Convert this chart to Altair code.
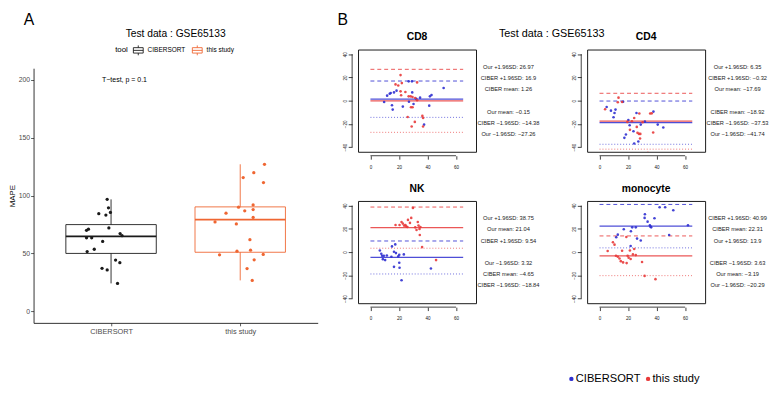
import altair as alt
import pandas as pd

FONT = "Liberation Sans"

# ------------------------------------------------------------------ Panel A data
TOOLS = ["CIBERSORT", "this study"]
TOOL_COLORS = ["#1a1a1a", "#EF6632"]
ciber_mape = [96.7, 89.4, 85.4, 84.3, 83.1, 72.0, 70.9, 70.0, 67.2, 65.3,
              63.5, 63.5, 60.4, 53.6, 51.6, 44.3, 42.0, 37.1, 35.7, 24.1]
ciber_jit = [-0.03, -0.02, -0.005, -0.095, -0.04, -0.017, -0.175, -0.19, 0.07, 0.085,
             -0.19, -0.15, -0.065, -0.13, -0.185, 0.035, 0.068, -0.07, -0.03, 0.05]
study_mape = [127.0, 119.7, 115.5, 111.2, 91.9, 89.9, 87.9, 86.8, 84.8, 81.1,
              77.2, 75.5, 61.9, 51.9, 52.8, 48.8, 49.1, 44.5, 36.9, 26.7]
study_jit = [0.188, 0.105, 0.023, 0.18, 0.1, -0.013, 0.1, 0.035, -0.11, 0.1,
             -0.195, -0.03, 0.075, -0.025, 0.08, -0.16, 0.178, 0.108, 0.053, 0.093]
box_q1 = [50.0, 51.0]
box_med = [64.7, 79.2]
box_q3 = [74.9, 90.2]
box_lo = [24.1, 26.7]
box_hi = [96.7, 127.0]
A_YTICKS = [0, 50, 100, 150, 200]
A_YDOM = [-10, 210]
A_XDOM = [0.4, 2.6]
TTEST = "T−test, p = 0.1"
TTEST_POS = [0.93, 200]
MAIN_TITLE = "Test data : GSE65133"

# ------------------------------------------------------------------ Panel B data
SERIES = ["CIBERSORT", "this study"]
BLUE, RED = "#2F2FD0", "#E83A3A"
STAT_NAMES = ["CIBER mean", "CIBER +1.96SD", "CIBER −1.96SD",
              "Our mean", "Our +1.96SD", "Our −1.96SD"]
STAT_STYLE = ["mean", "upper", "lower", "mean", "upper", "lower"]

cd8_ciber_x = [9.6, 11.7, 13.5, 14.2, 16.5, 18.3, 15.1, 15.6, 22.7, 26.8, 29.1,
               27.0, 29.3, 30.2, 32.1, 34.8, 41.7, 42.8, 41.2, 37.6, 51.3]
cd8_ciber_y = [-1.1, 4.3, 6.0, 6.6, 7.1, 8.6, -4.0, -7.7, -5.1, 16.6, 16.6,
               -0.9, 7.1, -2.9, 1.7, 2.6, 3.7, 4.9, -4.3, -20.6, 10.9]
cd8_our_x = [21.1, 22.0, 17.6, 19.5, 21.1, 21.5, 24.5, 26.8, 28.2, 29.5, 31.4,
             32.7, 26.1, 28.4, 29.5, 31.1, 28.9, 36.4, 36.9, 36.9, 32.7]
cd8_our_y = [22.0, 15.1, 14.0, 13.1, 8.0, 4.6, 7.4, 3.7, 3.7, 3.1, 2.3,
             15.7, -14.0, -5.7, -5.7, -18.3, -22.3, -13.1, -14.9, -22.3, 0.3]
cd8_stats = [1.26, 16.9, -14.38, -0.15, 26.97, -27.26]

cd4_ciber_x = [5.0, 8.0, 9.8, 10.5, 11.2, 16.5, 20.2, 21.1, 23.8, 18.5,
               17.4, 24.3, 27.2, 25.9, 28.9, 31.8, 37.8, 40.8, 44.7]
cd4_ciber_y = [-5.4, -8.6, -14.3, -10.6, -7.7, -0.9, -16.6, -21.1, -26.3, -29.1,
               -32.0, -36.9, -35.1, -10.6, -20.6, -18.0, -9.4, -20.6, -23.1]
cd4_our_x = [3.9, 13.3, 12.8, 15.8, 19.5, 22.7, 21.3, 24.3, 26.1, 26.6,
             27.9, 27.7, 28.6, 28.4, 30.2, 35.5, 36.6, 37.6, 33.9]
cd4_our_y = [-7.4, 2.6, -1.4, -1.1, -18.3, -17.7, -25.1, -14.9, -22.6, -27.7,
             -11.1, -28.6, -28.6, -32.6, -18.6, -11.1, -10.9, -27.4, -44.9]
cd4_stats = [-18.92, -0.32, -37.53, -17.69, 6.35, -41.74]

nk_ciber_x = [6.6, 7.6, 8.2, 8.7, 9.4, 10.3, 11.5, 14.7, 15.1, 17.4,
              16.5, 17.9, 19.5, 20.2, 20.2, 20.4, 23.4, 16.5, 21.8, 42.4]
nk_ciber_y = [1.4, -1.4, -3.2, -6.1, -3.2, -6.9, -2.9, -4.0, 4.9, 6.6,
              0.3, -0.9, -3.7, -2.3, -9.2, -13.5, -2.0, -12.7, -24.2, -14.1]
nk_our_x = [17.6, 20.4, 21.8, 22.7, 23.6, 24.5, 25.0, 25.9, 26.3, 27.7, 28.6,
            29.8, 31.4, 32.3, 33.2, 33.7, 34.4, 35.0, 34.6, 36.2, 46.0]
nk_our_y = [23.3, 23.3, 25.9, 24.5, 22.8, 23.3, 22.2, 21.6, 27.7, 25.1, 29.4,
            38.0, 21.3, 19.0, 25.9, 22.8, 19.9, 21.6, 14.7, 4.3, -6.9]
nk_stats = [-4.65, 9.54, -18.84, 21.04, 38.75, 3.32]

mono_ciber_x = [11.7, 12.8, 17.0, 22.0, 22.9, 25.4, 21.8, 26.3, 28.9, 31.6, 31.8,
                33.7, 35.3, 35.7, 36.2, 38.5, 42.1, 46.0, 51.7, 48.8, 62.0]
mono_ciber_y = [12.7, 15.0, 19.6, 17.9, 21.3, 21.3, 5.2, 11.6, 9.9, 29.4, 32.6,
                26.2, 23.1, 21.9, 21.3, 29.1, 38.6, 38.6, 36.0, 14.7, 23.1]
mono_our_x = [5.7, 9.4, 10.5, 11.5, 12.8, 14.0, 14.9, 15.8, 16.5, 18.8, 19.0,
              19.7, 20.4, 21.3, 21.8, 23.4, 24.3, 25.4, 29.8, 31.6, 39.2]
mono_our_y = [0.9, 8.4, 6.4, -3.2, -4.0, -5.5, -7.8, 1.2, -8.9, 13.0, -9.5,
              -3.2, -4.9, 1.4, -6.0, -2.0, 2.6, -2.6, -8.6, -20.5, -23.3]
mono_stats = [22.31, 40.99, 3.63, -3.19, 13.9, -20.29]

B_XTICKS = [0, 20, 40, 60]
B_YTICKS = [-40, -20, 0, 20, 40]
B_XDOM = [-8.7, 74]
B_YDOM = [-44, 44]
LINE_X = [0, 65]

# ------------------------------------------------------------------ layout (pixels)
W_A, H_A = 289, 259
A_DROP = 19                 # panel A starts this far below the B panels' top
W_B, H_B = 120, 104
LETTER_Y = -25.2            # baseline of the "A"/"B" letters above the B panels' top
LETTER_X_B = -21
LEG_B_X = [-16, 62]         # bottom legend symbols, relative to the monocyte panel
LEG_B_Y = 181

# ------------------------------------------------------------------ Panel A
box_df = pd.DataFrame({"tool": TOOLS, "pos": [1, 2], "q1": box_q1, "med": box_med,
                       "q3": box_q3, "lo": box_lo, "hi": box_hi})
pts_df = pd.DataFrame({
    "tool": ["CIBERSORT"] * len(ciber_mape) + ["this study"] * len(study_mape),
    "pos": [1] * len(ciber_mape) + [2] * len(study_mape),
    "jit": ciber_jit + study_jit,
    "mape": ciber_mape + study_mape,
})

xA = alt.Scale(domain=A_XDOM, nice=False, zero=False)
yA = alt.Scale(domain=A_YDOM, nice=False, zero=False)
label_expr = " : ".join(f"datum.value == {i + 1} ? '{t}'" for i, t in enumerate(TOOLS)) + " : ''"
axA_x = alt.Axis(values=[1, 2], labelExpr=label_expr, grid=False, domainColor="#1a1a1a",
                 domainWidth=0.9, tickColor="#333333", tickSize=3, tickWidth=0.8,
                 labelFontSize=7.5, labelColor="#4D4D4D", labelPadding=1.5, labelFont=FONT)
axA_y = alt.Axis(values=A_YTICKS, grid=False, domainColor="#1a1a1a", domainWidth=0.9,
                 tickColor="#333333", tickSize=3, tickWidth=0.8, labelFontSize=7,
                 labelColor="#4D4D4D", labelPadding=1, labelFont=FONT,
                 titleFontSize=8, titleFontWeight="normal", titleColor="black",
                 titlePadding=2, titleFont=FONT)
colA = alt.Color("tool:N", scale=alt.Scale(domain=TOOLS, range=TOOL_COLORS), legend=None)
# boxplot key drawn as separate open strokes (no enclosed area to fill)
BOX_PATH = ("M-1,-0.55H1M1,-0.55V0.55M1,0.55H-1M-1,0.55V-0.55"
            "M-1,0H1M0,-0.55V-1M0,0.55V1")
# this legend is placed by the column group that starts A_DROP above panel A
legA = alt.Legend(orient="none", legendX=83, legendY=-5, direction="horizontal",
                  title="tool", titleOrient="left", titleFontSize=8, titleFontWeight="normal",
                  titleColor="black", titleFont=FONT, titlePadding=5, titleBaseline="middle",
                  labelFontSize=6.6, labelColor="black", labelFont=FONT,
                  symbolType=BOX_PATH, symbolSize=100, symbolFillColor="white",
                  symbolStrokeWidth=0.9, labelOffset=4, columnPadding=4, padding=0)

baseA = alt.Chart(box_df).transform_calculate(xl="datum.pos - 0.35", xr="datum.pos + 0.35")
boxes = baseA.mark_rect(fill="white", strokeWidth=0.9).encode(
    x=alt.X("xl:Q", scale=xA, axis=axA_x, title=None), x2="xr:Q",
    y=alt.Y("q1:Q", scale=yA, axis=axA_y, title="MAPE"), y2="q3:Q",
    stroke=alt.Stroke("tool:N", scale=alt.Scale(domain=TOOLS, range=TOOL_COLORS), legend=legA))
wh_hi = baseA.mark_rule(strokeWidth=0.9).encode(
    x=alt.X("pos:Q", scale=xA, axis=axA_x, title=None),
    y=alt.Y("q3:Q", scale=yA, axis=axA_y, title="MAPE"), y2="hi:Q", color=colA)
wh_lo = baseA.mark_rule(strokeWidth=0.9).encode(
    x=alt.X("pos:Q", scale=xA, axis=axA_x, title=None),
    y=alt.Y("lo:Q", scale=yA, axis=axA_y, title="MAPE"), y2="q1:Q", color=colA)
med = baseA.mark_rule(strokeWidth=1.8).encode(
    x=alt.X("xl:Q", scale=xA, axis=axA_x, title=None), x2="xr:Q",
    y=alt.Y("med:Q", scale=yA, axis=axA_y, title="MAPE"), color=colA)
ptsA = alt.Chart(pts_df).transform_calculate(xj="datum.pos + datum.jit").mark_circle(
    size=11, opacity=1).encode(
    x=alt.X("xj:Q", scale=xA, axis=axA_x, title=None),
    y=alt.Y("mape:Q", scale=yA, axis=axA_y, title="MAPE"), color=colA)
ttest = alt.Chart(pd.DataFrame({"x": [TTEST_POS[0]], "y": [TTEST_POS[1]], "t": [TTEST]})).mark_text(
    align="left", baseline="middle", fontSize=7.1, font=FONT, color="black").encode(
    x=alt.X("x:Q", scale=xA, axis=axA_x, title=None),
    y=alt.Y("y:Q", scale=yA, axis=axA_y, title="MAPE"), text="t:N")
titleA = alt.Chart(pd.DataFrame({"t": [MAIN_TITLE]})).mark_text(
    align="center", baseline="middle", fontSize=10.4, font=FONT, color="black").encode(
    text="t:N", x=alt.value(W_A / 2), y=alt.value(-35))
letterA = alt.Chart(pd.DataFrame({"t": ["A"]})).mark_text(
    align="left", baseline="alphabetic", fontSize=16, font=FONT, color="black").encode(
    text="t:N", x=alt.value(-10), y=alt.value(LETTER_Y - A_DROP))

panelA = alt.layer(boxes, wh_hi, wh_lo, med, ptsA, ttest, titleA, letterA).properties(
    width=W_A, height=H_A)


def spacer(w, h):
    return alt.Chart(pd.DataFrame({"s": [""]})).mark_text().encode(text="s:N").properties(
        width=w, height=h)


colA_chart = alt.vconcat(spacer(W_A, A_DROP), panelA, spacing=0, bounds="flush")


# ------------------------------------------------------------------ Panel B
def fmt(v):
    return str(v).replace("-", "−")


def ba_panel(name, cx, cy, ox, oy, stats, legend=False, extras=()):
    pts = pd.DataFrame({"x": cx + ox, "y": cy + oy,
                        "series": ["CIBERSORT"] * len(cx) + ["this study"] * len(ox)})
    st = pd.DataFrame({"name": STAT_NAMES, "value": stats, "style": STAT_STYLE})
    st["series"] = ["CIBERSORT" if n.startswith("CIBER") else "this study" for n in st["name"]]
    st["label"] = [f"{n}: {fmt(v)}" for n, v in zip(st["name"], st["value"])]
    order = st["value"].rank(ascending=False, method="first").astype(int) - 1
    st["slot"] = [o if o < 3 else o + 1 for o in order]
    st["x0"] = LINE_X[0]
    st["x1"] = LINE_X[1]

    xs = alt.Scale(domain=B_XDOM, nice=False, zero=False)
    ys = alt.Scale(domain=B_YDOM, nice=False, zero=False)
    ax_x = alt.Axis(values=B_XTICKS, domain=False, tickSize=3.5, tickColor="#111",
                    tickWidth=0.8, offset=4, labelFontSize=4.6, labelPadding=5,
                    labelColor="#111", grid=False, labelFlush=False, labelFont=FONT)
    ax_y = alt.Axis(values=B_YTICKS, domain=False, tickSize=4, tickColor="#111",
                    tickWidth=0.8, offset=6, labelAngle=270, labelAlign="center",
                    labelBaseline="bottom", labelFontSize=4.6, labelPadding=1,
                    labelColor="#111", grid=False, labelFlush=False, labelFont=FONT)
    strk = alt.Stroke("series:N", scale=alt.Scale(domain=SERIES, range=[BLUE, RED]), legend=None)
    col = alt.Color("series:N", scale=alt.Scale(domain=SERIES, range=[BLUE, RED]), legend=None)

    def rules(style, **kw):
        return alt.Chart(st[st["style"] == style]).mark_rule(**kw).encode(
            x=alt.X("x0:Q", scale=xs, axis=ax_x, title=None), x2="x1:Q",
            y=alt.Y("value:Q", scale=ys, axis=ax_y, title=None), stroke=strk)

    upper = rules("upper", strokeWidth=1, strokeDash=[4, 3], opacity=0.85)
    lower = rules("lower", strokeWidth=1, strokeDash=[1, 2], opacity=0.7)
    mean = rules("mean", strokeWidth=1.3, opacity=0.85)
    points = alt.Chart(pts).mark_circle(size=7, opacity=0.9, clip=True).encode(
        x=alt.X("x:Q", scale=xs, axis=ax_x, title=None),
        y=alt.Y("y:Q", scale=ys, axis=ax_y, title=None), color=col)
    xline = alt.Chart(pd.DataFrame({"a": [B_XTICKS[0]], "b": [B_XTICKS[-1]]})).mark_rule(
        color="#111", strokeWidth=0.8).encode(
        x=alt.X("a:Q", scale=xs, axis=ax_x, title=None), x2="b:Q", y=alt.value(H_B + 4))
    yline = alt.Chart(pd.DataFrame({"a": [B_YTICKS[0]], "b": [B_YTICKS[-1]]})).mark_rule(
        color="#111", strokeWidth=0.8).encode(
        y=alt.Y("a:Q", scale=ys, axis=ax_y, title=None), y2="b:Q", x=alt.value(-6))
    ttl = alt.Chart(pd.DataFrame({"t": [name]})).mark_text(
        fontSize=10.5, fontWeight="bold", font=FONT, color="black", baseline="middle").encode(
        text="t:N", x=alt.value(W_B / 2), y=alt.value(-12.5))
    inner = alt.layer(upper, lower, mean, points, xline, yline, ttl, *extras)
    texts = alt.Chart(st).mark_text(fontSize=5.8, font=FONT, color="#222", baseline="middle").encode(
        text="label:N", x=alt.value(W_B + 33),
        y=alt.Y("slot:Q", scale=alt.Scale(domain=[0, 6], range=[17.4, 86.0]), axis=None))
    layers = [inner, texts]
    if legend:
        leg_df = pd.DataFrame({"series": SERIES})
        leg_x = alt.X("series:N", scale=alt.Scale(type="point", domain=SERIES, range=LEG_B_X,
                                                  padding=0), axis=None, title=None)
        leg_pts = alt.Chart(leg_df).mark_circle(size=20, opacity=1).encode(
            x=leg_x, y=alt.value(LEG_B_Y), color=col)
        leg_txt = alt.Chart(leg_df).mark_text(
            align="left", baseline="middle", dx=4.5, fontSize=11.3, font=FONT,
            color="black").encode(x=leg_x, y=alt.value(LEG_B_Y), text="series:N")
        layers.append(alt.layer(leg_pts, leg_txt))
    return alt.layer(*layers).resolve_scale(x="independent", y="independent").properties(
        width=W_B, height=H_B, view=alt.ViewBackground(stroke="#1a1a1a", strokeWidth=1))


letterB = alt.Chart(pd.DataFrame({"t": ["B"]})).mark_text(
    align="left", baseline="alphabetic", fontSize=16, font=FONT, color="black").encode(
    text="t:N", x=alt.value(LETTER_X_B), y=alt.value(LETTER_Y))
titleB = alt.Chart(pd.DataFrame({"t": [MAIN_TITLE]})).mark_text(
    align="center", baseline="middle", fontSize=11, font=FONT, color="black").encode(
    text="t:N", x=alt.value(197), y=alt.value(-16))

cd8 = ba_panel("CD8", cd8_ciber_x, cd8_ciber_y, cd8_our_x, cd8_our_y, cd8_stats,
               extras=(letterB, titleB))
cd4 = ba_panel("CD4", cd4_ciber_x, cd4_ciber_y, cd4_our_x, cd4_our_y, cd4_stats)
nk = ba_panel("NK", nk_ciber_x, nk_ciber_y, nk_our_x, nk_our_y, nk_stats)
mono = ba_panel("monocyte", mono_ciber_x, mono_ciber_y, mono_our_x, mono_our_y, mono_stats,
                legend=True)

gridB = alt.concat(cd8, cd4, nk, mono, columns=2, bounds="flush",
                   spacing={"row": 50, "column": 113}).resolve_scale(
    color="independent", stroke="independent")

chart = alt.hconcat(colA_chart, gridB, spacing=19, bounds="full").resolve_scale(
    color="independent", stroke="independent").properties(padding=0).configure(
    font=FONT).configure_view(stroke=None)

chart.save("out.html", embed_options={"renderer": "svg", "actions": False})
